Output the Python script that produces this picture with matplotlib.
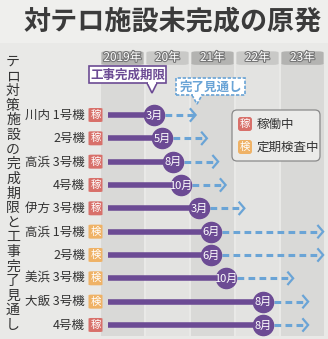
import matplotlib.pyplot as plt
from matplotlib.patches import FancyBboxPatch, Rectangle, Polygon
import matplotlib.patheffects as pe

plt.rcParams['font.family'] = ['Noto Sans CJK JP', 'DejaVu Sans']

# data
plants = ['川内 1号機', '2号機', '高浜 3号機', '4号機', '伊方 3号機',
          '高浜 1号機', '2号機', '美浜 3号機', '大飯 3号機', '4号機']
status = ['稼', '稼', '稼', '稼', '稼', '検', '検', '検', '検', '稼']
deadline_year = [2020, 2020, 2020, 2020, 2021, 2021, 2021, 2021, 2022, 2022]
deadline_month = [3, 5, 8, 10, 3, 6, 6, 10, 8, 8]
finish_year = [2021, 2021, 2021, 2021, 2022, 2023, 2023, 2023, 2023, 2023]
finish_month = [2, 5, 8, 10, 3, 12, 12, 4, 8, 8]
years = [2019, 2020, 2021, 2022, 2023]
year_labels = ['2019年', '20年', '21年', '22年', '23年']

W, H = 328, 339
BG = '#e9e9e7'
PURPLE = '#6c4b94'
BLUE = '#6aa4d6'
RED = '#d8706a'
ORANGE = '#efb266'
badge_col = {'稼': RED, '検': ORANGE}

fig = plt.figure(figsize=(W / 100, H / 100), dpi=100, facecolor=BG)
ax = fig.add_axes([0, 0, 1, 1])
ax.set_facecolor(BG)
# 2019 starts at px 100, 45 px per year; rows at px 115, 23.3 px apart
PPY, X_PX0 = 45.0, 100.0
ROW0, ROWH = 115.0, 23.33
ax.set_xlim(2019 - X_PX0 / PPY, 2019 + (W - X_PX0) / PPY)
ax.set_ylim((H - ROW0) / ROWH, -ROW0 / ROWH)
ax.axis('off')


def fx(px):
    return px / W


def fy(py):
    return 1 - py / H


# title
fig.text(fx(24), fy(21), '対テロ施設未完成の原発', fontsize=19.5, fontweight='bold',
         color='#3b3b3b', ha='left', va='center')
fig.patches.append(Rectangle((0, fy(43)), 1, 1 - fy(43), transform=fig.transFigure,
                             facecolor='#efefed', edgecolor='none', zorder=-1))

# vertical side title
side = 'テロ対策施設の完成期限と工事完了見通し'
for i, ch in enumerate(side):
    fig.text(fx(13), fy(62 + i * 14.6), ch, fontsize=10, color='#333333',
             ha='center', va='center')

# year columns and tabs
top_row = (63 - ROW0) / ROWH
bot_row = (336 - ROW0) / ROWH
for i, (yr, lab) in enumerate(zip(years, year_labels)):
    dark = i % 2 == 0
    ax.add_patch(Rectangle((yr + 0.02, top_row), 0.96, bot_row - top_row,
                           facecolor='#d9d9d7' if dark else '#e3e3e1',
                           edgecolor='none', zorder=0))
    tab = FancyBboxPatch((yr + 0.03, top_row - 0.5), 0.94, 0.58,
                         boxstyle='round,pad=0,rounding_size=0.12',
                         mutation_aspect=1 / 2.0,
                         facecolor='#b3b3b1' if dark else '#c9c9c7',
                         edgecolor='none', zorder=1)
    ax.add_patch(tab)
    ax.text(yr + 0.5, top_row - 0.24, lab, fontsize=8.5, color='white',
            ha='center', va='center', zorder=2,
            path_effects=[pe.withStroke(linewidth=1.6, foreground='#777777')])

# rows
bar_start = 2019 + 8 / PPY
for r in range(len(plants)):
    d = deadline_year[r] + (deadline_month[r] - 0.5) / 12
    f = finish_year[r] + (finish_month[r] - 0.5) / 12
    ax.text(2019 - 15 / PPY, r, plants[r], fontsize=9, color='#333333',
            ha='right', va='center')
    ax.add_patch(FancyBboxPatch((2019 - 11.5 / PPY, r - 7 / ROWH), 14 / PPY, 14 / ROWH,
                                boxstyle='round,pad=0,rounding_size=0.06',
                                mutation_aspect=ROWH / PPY,
                                facecolor=badge_col[status[r]], edgecolor='none', zorder=3))
    ax.text(2019 - 4.5 / PPY, r, status[r], fontsize=7.5, color='white',
            ha='center', va='center', zorder=4)
    ax.plot([bar_start, d], [r, r], color=PURPLE, lw=4, solid_capstyle='butt', zorder=3)
    ax.plot(d, r, 'o', ms=14.5, color=PURPLE, zorder=4)
    ax.text(d, r + 0.02, f'{deadline_month[r]}月', fontsize=8, color='white',
            ha='center', va='center', zorder=5)
    ax.plot([d + 11 / PPY, f - 2 / PPY], [r, r], color=BLUE, lw=2.2,
            dashes=(2.2, 1.4), zorder=3)
    ax.plot([f - 5 / PPY, f, f - 5 / PPY], [r - 0.25, r, r + 0.25], color=BLUE,
            lw=1.6, solid_joinstyle='miter', zorder=3)

# callouts
def callout(x0, x1, y0, y1, tip_x, tip_y, text, color, ls):
    box = FancyBboxPatch((fx(x0), fy(y1)), fx(x1) - fx(x0), fy(y0) - fy(y1),
                         boxstyle='square,pad=0', transform=fig.transFigure,
                         facecolor='white', edgecolor=color, lw=1.2, linestyle=ls, zorder=6)
    fig.patches.append(box)
    tri = Polygon([(fx(tip_x - 5), fy(y1)), (fx(tip_x), fy(tip_y)), (fx(tip_x + 5), fy(y1))],
                  closed=False, transform=fig.transFigure, facecolor='white',
                  edgecolor=color, lw=1.2, linestyle=ls, zorder=7)
    fig.patches.append(tri)
    fig.patches.append(Rectangle((fx(tip_x - 4.3), fy(y1) - 0.002), fx(8.6), 0.006,
                                 transform=fig.transFigure, facecolor='white',
                                 edgecolor='none', zorder=8))
    fig.text(fx((x0 + x1) / 2), fy((y0 + y1) / 2 + 0.5), text, fontsize=9,
             fontweight='bold', color=color, ha='center', va='center', zorder=9)


callout(89, 166, 66, 83, 152, 93, '工事完成期限', PURPLE, '-')
callout(176, 245, 78, 95, 197, 104, '完了見通し', BLUE, (0, (2, 1)))

# legend
fig.patches.append(FancyBboxPatch((fx(232), fy(161)), fx(88), fy(110) - fy(161),
                                  boxstyle='round,pad=0,rounding_size=0.015',
                                  transform=fig.transFigure, facecolor='#ebebe9',
                                  edgecolor='#8a8a8a', lw=0.9, zorder=6))
for k, (b, lab) in enumerate([('稼', '稼働中'), ('検', '定期検査中')]):
    cy = 124 + k * 23
    fig.patches.append(FancyBboxPatch((fx(238), fy(cy + 7)), fx(14), fy(cy - 7) - fy(cy + 7),
                                      boxstyle='round,pad=0,rounding_size=0.008',
                                      transform=fig.transFigure, facecolor=badge_col[b],
                                      edgecolor='none', zorder=7))
    fig.text(fx(245), fy(cy), b, fontsize=7.5, color='white', ha='center', va='center', zorder=8)
    fig.text(fx(257), fy(cy), lab, fontsize=9, color='#333333', ha='left', va='center', zorder=8)

fig.savefig('out.png', dpi=100, facecolor=BG)
